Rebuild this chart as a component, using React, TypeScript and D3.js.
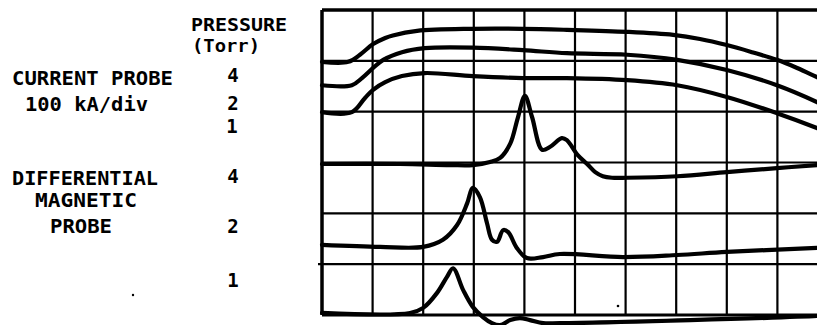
import React from "react";
import * as d3 from "d3";

// Oscilloscope traces: x in horizontal divisions (0-10), y in vertical divisions (0-6, bottom = 0)
const current4: [number, number][] = [[0,4.98],[0.52,4.98],[0.75,5.12],[1.01,5.33],[1.25,5.45],[1.40,5.50],[1.88,5.59],[2.98,5.63],[3.97,5.63],[4.84,5.61],[6.03,5.57],[6.94,5.51],[7.47,5.43],[8.0,5.31],[8.50,5.17],[8.99,5.02],[9.39,4.86],[9.78,4.68],[10,4.58]];
const current2: [number, number][] = [[0,4.52],[0.59,4.52],[0.79,4.66],[1.01,4.86],[1.21,5.02],[1.58,5.17],[2.03,5.25],[2.98,5.26],[3.97,5.21],[4.84,5.15],[6.03,5.12],[7.02,5.02],[8.0,4.82],[8.99,4.52],[9.78,4.19],[10,4.08]];
const current1: [number, number][] = [[0,3.99],[0.59,3.99],[0.85,4.27],[1.01,4.43],[1.25,4.58],[1.58,4.70],[2.03,4.76],[2.98,4.70],[3.97,4.66],[4.84,4.66],[6.03,4.62],[7.02,4.52],[8.0,4.29],[8.99,3.97],[9.78,3.68],[10,3.59]];
const dmag4: [number, number][] = [[0,2.97],[1.54,2.97],[2.53,2.95],[2.98,2.95],[3.32,3.01],[3.52,3.09],[3.72,3.37],[3.87,3.88],[4.01,4.31],[4.15,3.90],[4.35,3.25],[4.51,3.31],[4.74,3.48],[4.84,3.44],[5.05,3.15],[5.24,2.97],[5.40,2.81],[5.55,2.73],[5.73,2.70],[6.03,2.70],[7.02,2.73],[8.0,2.81],[8.99,2.89],[9.78,2.95],[10,2.97]];
const dmag2: [number, number][] = [[0,1.38],[1.15,1.34],[2.0,1.34],[2.39,1.48],[2.67,1.77],[2.87,2.20],[2.98,2.50],[3.12,2.32],[3.26,1.81],[3.36,1.48],[3.46,1.44],[3.58,1.67],[3.68,1.63],[3.85,1.32],[4.05,1.12],[4.37,1.14],[4.70,1.20],[5.95,1.14],[7.02,1.18],[8.0,1.24],[9.78,1.32],[10,1.33]];
const dmag1: [number, number][] = [[0,0.04],[1.74,0.04],[2.0,0.14],[2.27,0.43],[2.47,0.75],[2.59,0.92],[2.79,0.49],[2.98,0.16],[3.18,-0.04],[3.36,-0.16],[3.52,-0.20],[3.72,-0.10],[3.91,-0.06],[4.11,-0.10],[4.37,-0.16],[4.70,-0.16],[9.78,-0.02],[10,0]];

const traces = [current4, current2, current1, dmag4, dmag2, dmag1];

const xDivs = d3.range(0, 11);
const yDivs = d3.range(0, 7);

// Labels
const pressureHeader = ["PRESSURE", "(Torr)"];
const currentLabel = ["CURRENT PROBE", "100 kA/div"];
const currentPressures = ["4", "2", "1"];
const magLabel = ["DIFFERENTIAL", "MAGNETIC", "PROBE"];
const magPressures = ["4", "2", "1"];

export default function App() {
  const W = 817, H = 325;
  const x = d3.scaleLinear().domain([0, 10]).range([322, 828]);
  const y = d3.scaleLinear().domain([0, 6]).range([315, 10]);
  const line = d3
    .line<[number, number]>()
    .x((d) => x(d[0]))
    .y((d) => y(d[1]))
    .curve(d3.curveCatmullRom.alpha(0.5));

  const font = "'DejaVu Sans Mono', 'Liberation Mono', monospace";
  const tStyle: React.CSSProperties = { fontFamily: font, fontSize: 19, fontWeight: "bold" };
  const hStyle: React.CSSProperties = { fontSize: 18 };

  return (
    <svg
      width={W}
      height={H}
      style={{ position: "absolute", left: 0, top: 0, background: "#fff" }}
    >
      <rect x={0} y={0} width={W} height={H} fill="#fff" />
      {/* grid */}
      <g stroke="#000">
        {xDivs.map((d) => (
          <line key={"v" + d} x1={x(d)} x2={x(d)} y1={y(6)} y2={y(0)} strokeWidth={d === 0 ? 3.5 : 2.2} />
        ))}
        {yDivs.map((d) => (
          <line key={"h" + d} x1={x(0) - (d === 1 ? 4 : 0)} x2={x(10)} y1={y(d)} y2={y(d)} strokeWidth={d === 6 ? 3.5 : d === 0 ? 3 : 2.2} />
        ))}
      </g>
      {/* traces */}
      <g fill="none" stroke="#000" strokeWidth={4.2} strokeLinejoin="round" strokeLinecap="round">
        {traces.map((t, i) => (
          <path key={i} d={line(t) || ""} />
        ))}
      </g>
      {/* specks */}
      <circle cx={618} cy={306} r={1.3} fill="#000" />
      <circle cx={133} cy={295} r={1.2} fill="#000" />
      {/* labels */}
      <g style={tStyle} fill="#000">
        <text x={191} y={31} style={hStyle} textLength={96} lengthAdjust="spacingAndGlyphs">{pressureHeader[0]}</text>
        <text x={192} y={52} style={hStyle} textLength={68} lengthAdjust="spacingAndGlyphs">{pressureHeader[1]}</text>
        <text x={12} y={85} textLength={161} lengthAdjust="spacingAndGlyphs">{currentLabel[0]}</text>
        <text x={25} y={111} textLength={123} lengthAdjust="spacingAndGlyphs">{currentLabel[1]}</text>
        <text x={233} y={82} textAnchor="middle">{currentPressures[0]}</text>
        <text x={233} y={110} textAnchor="middle">{currentPressures[1]}</text>
        <text x={232} y={133} textAnchor="middle">{currentPressures[2]}</text>
        <text x={12} y={185} textLength={146} lengthAdjust="spacingAndGlyphs">{magLabel[0]}</text>
        <text x={35} y={207} textLength={102} lengthAdjust="spacingAndGlyphs">{magLabel[1]}</text>
        <text x={50} y={233} textLength={62} lengthAdjust="spacingAndGlyphs">{magLabel[2]}</text>
        <text x={233} y={183} textAnchor="middle">{magPressures[0]}</text>
        <text x={233} y={233} textAnchor="middle">{magPressures[1]}</text>
        <text x={233} y={287} textAnchor="middle">{magPressures[2]}</text>
      </g>
    </svg>
  );
}
